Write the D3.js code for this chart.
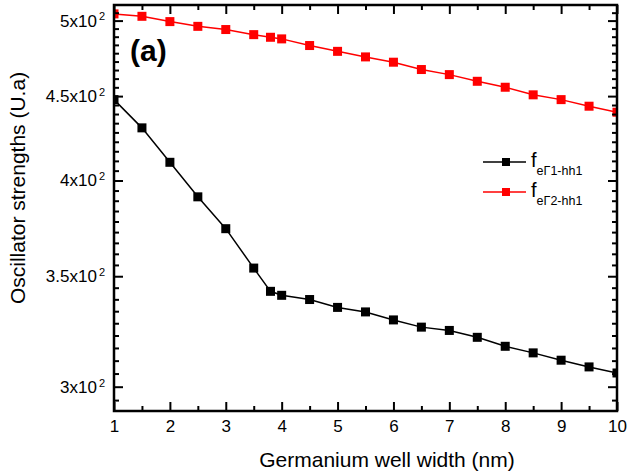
<!DOCTYPE html>
<html><head><meta charset="utf-8">
<script src="https://cdn.jsdelivr.net/npm/d3@7"></script>
<style>
body{margin:0;background:#fff}
text{font-family:"Liberation Sans",Arial,sans-serif;fill:#000}
</style>
</head><body>
<svg id="c" width="627" height="475"></svg>
<script>
// ---- data ----
const wellWidths = [1,1.5,2,2.5,3,3.5,3.8,4,4.5,5,5.5,6,6.5,7,7.5,8,8.5,9,9.5,10];
const fGamma1 = [447.8,430.5,410.3,391.0,374.0,354.0,342.7,340.8,338.8,335.1,333.0,329.3,326.0,324.5,321.4,317.4,314.5,311.3,308.4,305.8];
const fGamma2 = [504.7,503.0,499.3,496.0,493.8,490.3,488.5,487.4,482.9,479.0,475.3,471.8,467.0,463.7,459.4,455.6,450.8,447.8,443.7,440.0];
const xTickValues = [1,2,3,4,5,6,7,8,9,10];
const yTickValues = [300,350,400,450,500];
const yTickMantissas = ["3","3.5","4","4.5","5"];
const seriesNames = ["e\u03931-hh1","e\u03932-hh1"];
const seriesColors = ["#000000","#ff0000"];

// ---- layout ----
const W = 627, H = 475;
const m = {left:114, right:10, top:5, bottom:64};
const pw = W - m.left - m.right, ph = H - m.top - m.bottom;
const svg = d3.select("#c");
const g = svg.append("g").attr("transform",`translate(${m.left},${m.top})`);

const x = d3.scaleLinear().domain([1,10]).range([0,pw]);
const y = d3.scaleLog().domain([290,511]).range([ph,0]);

const xMinor = d3.range(1.5,10,1);
const yMinor = [];
for (let k=-1;k<=37;k++){ const v = 300 + k*50/9; if (v>y.domain()[0] && v<y.domain()[1] && Math.abs((v-300)%50)>1e-6 && Math.abs((v-300)%50-50)>1e-6) yMinor.push(v); }

g.append("defs").append("clipPath").attr("id","clip").append("rect").attr("width",pw).attr("height",ph);

// ---- data series ----
const series = [fGamma1, fGamma2];
const line = d3.line().x((d,i)=>x(wellWidths[i])).y(d=>y(d));
const ms = 9;
const dataG = g.append("g").attr("clip-path","url(#clip)");
series.forEach((s,si)=>{
  dataG.append("path").datum(s).attr("d",line).attr("fill","none")
    .attr("stroke",seriesColors[si]).attr("stroke-width",1.5);
  dataG.selectAll(null).data(s).enter().append("rect")
    .attr("x",(d,i)=>x(wellWidths[i])-ms/2).attr("y",d=>y(d)-ms/2)
    .attr("width",ms).attr("height",ms).attr("fill",seriesColors[si]);
});

// ---- axes ----
function styleAxis(sel){
  sel.select(".domain").remove();
  sel.selectAll(".tick line").attr("stroke","#000").attr("stroke-width",2);
}
// bottom
g.append("g").attr("transform",`translate(0,${ph})`)
  .call(d3.axisBottom(x).tickValues(xTickValues).tickSize(-9).tickPadding(9).tickFormat(d3.format("d")))
  .call(styleAxis)
  .call(s=>s.selectAll("text").attr("font-size",17).attr("font-family","Liberation Sans, Arial, sans-serif"));
g.append("g").attr("transform",`translate(0,${ph})`)
  .call(d3.axisBottom(x).tickValues(xMinor).tickSize(-5).tickFormat(""))
  .call(styleAxis);
// top
g.append("g").call(d3.axisTop(x).tickValues(xTickValues).tickSize(-9).tickFormat("")).call(styleAxis);
g.append("g").call(d3.axisTop(x).tickValues(xMinor).tickSize(-5).tickFormat("")).call(styleAxis);
// left
g.append("g")
  .call(d3.axisLeft(y).tickValues(yTickValues).tickSize(-9).tickPadding(9).tickFormat(""))
  .call(styleAxis)
  .call(s=>s.selectAll(".tick text").each(function(d,i){
     const t = d3.select(this).attr("font-size",17).attr("font-family","Liberation Sans, Arial, sans-serif");
     t.text(null);
     t.append("tspan").text(yTickMantissas[i]+"x10");
     t.append("tspan").attr("font-size",11).attr("dy","-0.55em").attr("dx",2).text("2");
  }));
g.append("g").call(d3.axisLeft(y).tickValues(yMinor).tickSize(-5).tickFormat("")).call(styleAxis);
// right
g.append("g").attr("transform",`translate(${pw},0)`)
  .call(d3.axisRight(y).tickValues(yTickValues).tickSize(-9).tickFormat("")).call(styleAxis);
g.append("g").attr("transform",`translate(${pw},0)`)
  .call(d3.axisRight(y).tickValues(yMinor).tickSize(-5).tickFormat("")).call(styleAxis);

// frame
g.append("rect").attr("width",pw).attr("height",ph).attr("fill","none")
  .attr("stroke","#000").attr("stroke-width",2.5);

// ---- titles ----
svg.append("text").attr("x",387).attr("y",467).attr("text-anchor","middle")
  .attr("font-size",21).text("Germanium well width (nm)");
svg.append("text").attr("transform","translate(25,188) rotate(-90)").attr("text-anchor","middle")
  .attr("font-size",21).text("Oscillator strengths (U.a)");
svg.append("text").attr("x",130).attr("y",61).attr("font-size",30).attr("font-weight","bold").text("(a)");

// ---- legend ----
const lg = svg.append("g");
const legendY = [162,192];
seriesNames.forEach((nm,i)=>{
  const yy = legendY[i];
  lg.append("line").attr("x1",483).attr("x2",526).attr("y1",yy).attr("y2",yy)
    .attr("stroke",seriesColors[i]).attr("stroke-width",1.5);
  lg.append("rect").attr("x",506-4).attr("y",yy-4).attr("width",8).attr("height",8).attr("fill",seriesColors[i]);
  const t = lg.append("text").attr("x",531).attr("y",yy+5).attr("font-size",20);
  t.append("tspan").text("f");
  t.append("tspan").attr("font-size",12.5).attr("dy",8).text(nm);
});
</script>
</body></html>
